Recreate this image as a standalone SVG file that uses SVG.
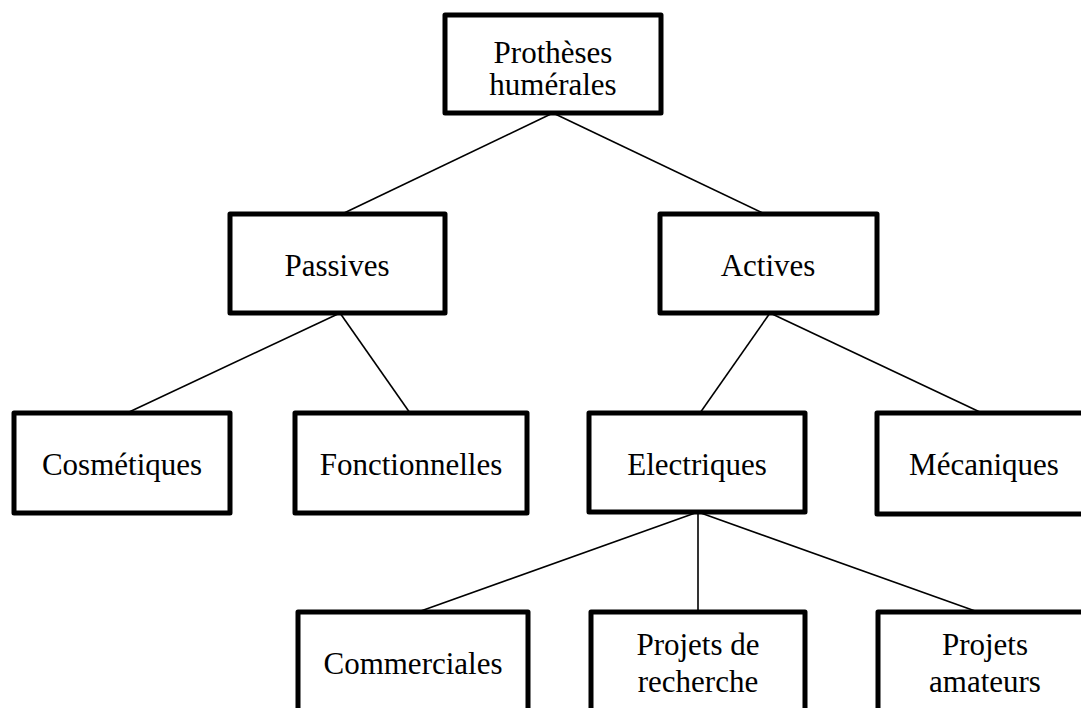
<svg xmlns="http://www.w3.org/2000/svg" width="1081" height="708" viewBox="0 0 1081 708">
<style>
.box{fill:#fff;stroke:#000;stroke-width:5;stroke-linejoin:round}
.t{font-family:"Liberation Serif","Times New Roman",serif;font-size:31px;fill:#000;text-anchor:middle}
.c line{stroke:#000;stroke-width:1.6}
</style>
<rect width="1081" height="708" fill="#fff"/>
<g class="c" id="connectors">
<line x1="553" y1="113" x2="342" y2="214"/>
<line x1="553" y1="113" x2="765" y2="214"/>
<line x1="340" y1="313" x2="127" y2="413"/>
<line x1="340" y1="313" x2="410" y2="413"/>
<line x1="770" y1="313" x2="700" y2="413"/>
<line x1="770" y1="313" x2="982" y2="413"/>
<line x1="698" y1="512" x2="418" y2="612"/>
<line x1="698" y1="512" x2="698" y2="612"/>
<line x1="698" y1="512" x2="978" y2="612"/>
</g>
<g id="n-root"><rect class="box" x="445" y="15" width="216" height="98"/><text class="t" x="553" y="63">Prothèses</text><text class="t" x="553" y="95">humérales</text></g>
<g id="n-passives"><rect class="box" x="230" y="214" width="215" height="99"/><text class="t" x="337" y="276">Passives</text></g>
<g id="n-actives"><rect class="box" x="660" y="214" width="217" height="99"/><text class="t" x="768" y="276">Actives</text></g>
<g id="n-cosmetiques"><rect class="box" x="14" y="413" width="216" height="100"/><text class="t" x="122" y="475">Cosmétiques</text></g>
<g id="n-fonctionnelles"><rect class="box" x="295" y="413" width="232" height="100"/><text class="t" x="411" y="475">Fonctionnelles</text></g>
<g id="n-electriques"><rect class="box" x="589" y="413" width="216" height="99"/><text class="t" x="697" y="475">Electriques</text></g>
<g id="n-mecaniques"><rect class="box" x="877" y="413" width="214" height="101"/><text class="t" x="984" y="475">Mécaniques</text></g>
<g id="n-commerciales"><rect class="box" x="298" y="612" width="230" height="110"/><text class="t" x="413" y="674">Commerciales</text></g>
<g id="n-recherche"><rect class="box" x="591" y="612" width="214" height="110"/><text class="t" x="698" y="655">Projets de</text><text class="t" x="698" y="692">recherche</text></g>
<g id="n-amateurs"><rect class="box" x="878" y="612" width="214" height="110"/><text class="t" x="985" y="655">Projets</text><text class="t" x="985" y="692">amateurs</text></g>
</svg>
